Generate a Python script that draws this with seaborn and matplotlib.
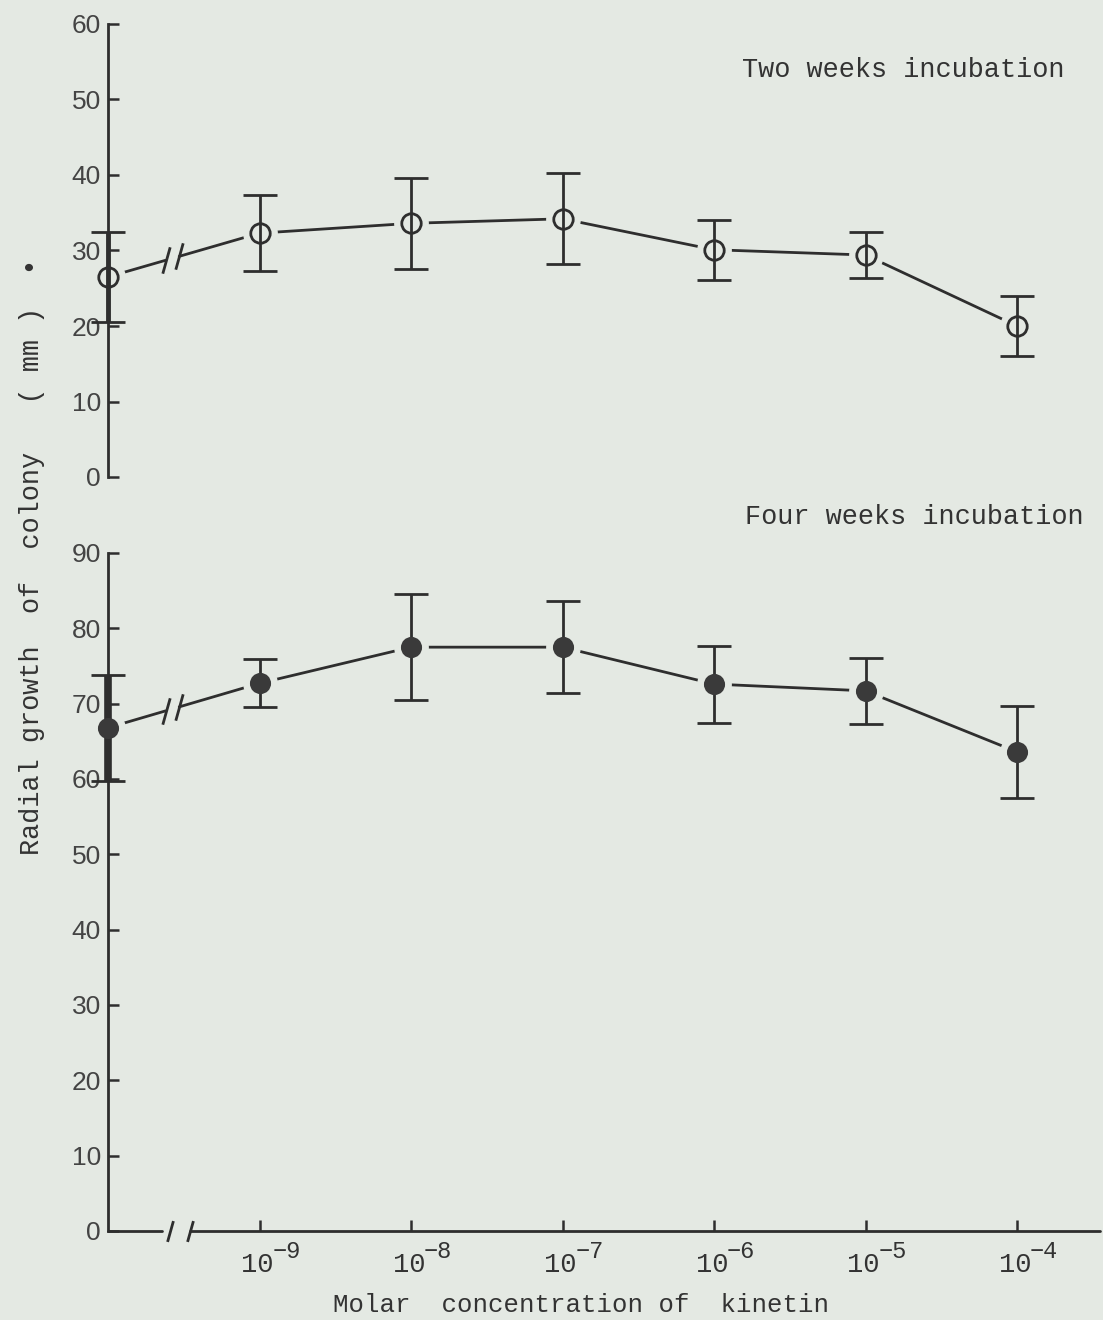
import numpy as np
import pandas as pd
import matplotlib
matplotlib.use("Agg")
import matplotlib.pyplot as plt
import seaborn as sns
from matplotlib.path import Path
from matplotlib.transforms import blended_transform_factory

# ---------------- data ----------------
concentrations = ["control", "1e-9", "1e-8", "1e-7", "1e-6", "1e-5", "1e-4"]
tick_base = "10"
tick_exponents = ["\u22129", "\u22128", "\u22127", "\u22126", "\u22125", "\u22124"]
two_weeks_mean = [26.5, 32.3, 33.6, 34.2, 30.1, 29.4, 20.0]
two_weeks_err = [6.0, 5.0, 6.0, 6.0, 4.0, 3.0, 4.0]
four_weeks_mean = [66.8, 72.7, 77.5, 77.5, 72.6, 71.7, 63.6]
four_weeks_err = [7.0, 3.2, 7.0, 6.1, 5.1, 4.4, 6.1]
top_yticks = [0, 10, 20, 30, 40, 50, 60]
bottom_yticks = [0, 10, 20, 30, 40, 50, 60, 70, 80, 90]

BG = "#e4e9e3"
INK = "#2e2e2e"
TXT = "#333333"
MONO = ["Liberation Mono", "DejaVu Sans Mono"]

sns.set_theme(style="white")
plt.rcParams.update({
    "font.family": ["Liberation Sans", "DejaVu Sans"],
    "figure.facecolor": BG,
    "axes.facecolor": BG,
    "savefig.facecolor": BG,
})

W, H = 1103, 1320
fig = plt.figure(figsize=(W / 100, H / 100), dpi=100)

x_left_px, x_right_px = 108, 1100
ax_top = fig.add_axes([x_left_px / W, 1 - 477 / H, (x_right_px - x_left_px) / W, (477 - 24) / H])
ax_bot = fig.add_axes([x_left_px / W, 1 - 1231 / H, (x_right_px - x_left_px) / W, (1231 - 553) / H])

positions = np.arange(len(concentrations), dtype=float)
slash = Path([(-0.28, -1.0), (0.28, 1.0)], [Path.MOVETO, Path.LINETO])
LW = 2.0


def draw_series(ax, means, errs, filled, ctrl_lw):
    means = np.asarray(means, dtype=float)
    errs = np.asarray(errs, dtype=float)
    df = pd.DataFrame({"pos": positions[1:], "val": means[1:]})
    sns.lineplot(data=df, x="pos", y="val", ax=ax, color=INK, lw=LW,
                 sort=False, errorbar=None, zorder=2)
    # broken segment between control and first concentration
    x0, x1 = positions[0], positions[1]
    y0, y1 = means[0], means[1]
    t_a, t_b = 0.38, 0.47
    xa, ya = x0 + t_a * (x1 - x0), y0 + t_a * (y1 - y0)
    xb, yb = x0 + t_b * (x1 - x0), y0 + t_b * (y1 - y0)
    ax.plot([x0, xa], [y0, ya], color=INK, lw=LW, zorder=2, clip_on=False)
    ax.plot([xb, x1], [yb, y1], color=INK, lw=LW, zorder=2, clip_on=False)
    ax.plot([xa, xb], [ya, yb], ls="none", marker=slash, ms=19, mew=LW,
            mec=INK, zorder=3, clip_on=False)
    # mask behind markers (gap between line and marker)
    ax.plot(positions, means, ls="none", marker="o", ms=24, mfc=BG, mec=BG,
            zorder=3, clip_on=False)
    # error bars
    ax.errorbar(positions[1:], means[1:], yerr=errs[1:], fmt="none", ecolor=INK,
                elinewidth=LW, capsize=12, capthick=LW, zorder=4)
    ax.errorbar(positions[:1], means[:1], yerr=errs[:1], fmt="none", ecolor=INK,
                elinewidth=ctrl_lw, capsize=12, capthick=LW, zorder=4, clip_on=False)
    if filled:
        ax.plot(positions, means, ls="none", marker="o", ms=14, mfc="#3a3a3a",
                mec="#3a3a3a", mew=1.2, zorder=5, clip_on=False)
    else:
        ax.plot(positions, means, ls="none", marker="o", ms=14, mfc="none",
                mec=INK, mew=LW, zorder=5, clip_on=False)


draw_series(ax_top, two_weeks_mean, two_weeks_err, filled=False, ctrl_lw=3.5)
draw_series(ax_bot, four_weeks_mean, four_weeks_err, filled=True, ctrl_lw=5.5)

xmax = (x_right_px - x_left_px) / 151.5
for ax, yt, ymax in [(ax_top, top_yticks, 60), (ax_bot, bottom_yticks, 90)]:
    ax.set_xlim(0, xmax)
    ax.set_ylim(0, ymax)
    ax.set_yticks(yt)
    ax.set_yticklabels([str(v) for v in yt])
    ax.set_xlabel("")
    ax.set_ylabel("")
    for s in ["top", "right", "bottom"]:
        ax.spines[s].set_visible(False)
    ax.spines["left"].set_color(INK)
    ax.spines["left"].set_linewidth(LW)
    ax.tick_params(axis="y", direction="in", length=8, width=1.8, color=INK,
                   labelsize=19, labelcolor="#444444", pad=5, left=True)
    ax.grid(False)

ax_top.set_xticks([])

# bottom x axis with break; tick labels drawn as typewriter text
ax_bot.set_xticks(positions[1:])
ax_bot.set_xticklabels([])
ax_bot.tick_params(axis="x", direction="in", length=8, width=1.8, color=INK,
                   bottom=True)
tr = blended_transform_factory(ax_bot.transData, ax_bot.transAxes)
for p, e in zip(positions[1:], tick_exponents):
    ax_bot.annotate(tick_base, xy=(p, 0), xycoords=tr, xytext=(-2, -34),
                    textcoords="offset pixels", ha="center", va="center",
                    family=MONO, fontsize=19.5, color=TXT, annotation_clip=False)
    ax_bot.annotate(e, xy=(p, 0), xycoords=tr, xytext=(13, -21),
                    textcoords="offset pixels", ha="left", va="center",
                    family=MONO, fontsize=17, color=TXT, annotation_clip=False)

px = 1 / 151.5
ax_bot.plot([0, 54 * px], [0, 0], color=INK, lw=LW, transform=tr, clip_on=False, zorder=6)
ax_bot.plot([82 * px, xmax], [0, 0], color=INK, lw=LW, transform=tr, clip_on=False, zorder=6)
ax_bot.plot([62 * px, 82 * px], [0, 0], ls="none", marker=slash, ms=15, mew=LW,
            mec=INK, transform=tr, clip_on=False, zorder=6)

# texts
fig.text(742 / W, 1 - 70 / H, "Two weeks incubation", family=MONO, fontsize=19.4,
         color=TXT, va="center", ha="left")
fig.text(745 / W, 1 - 517 / H, "Four weeks incubation", family=MONO, fontsize=19.4,
         color=TXT, va="center", ha="left")
fig.text(581 / W, 1 - 1305 / H, "Molar  concentration of  kinetin", family=MONO,
         fontsize=18.5, color=TXT, va="center", ha="center")
fig.text(32 / W, 1 - 557 / H, "Radial growth  of  colony   ( mm )  \u2022", family=MONO,
         fontsize=19.4, color=TXT, va="center", ha="center", rotation=90)

fig.savefig("out.png", dpi=100, facecolor=BG)
